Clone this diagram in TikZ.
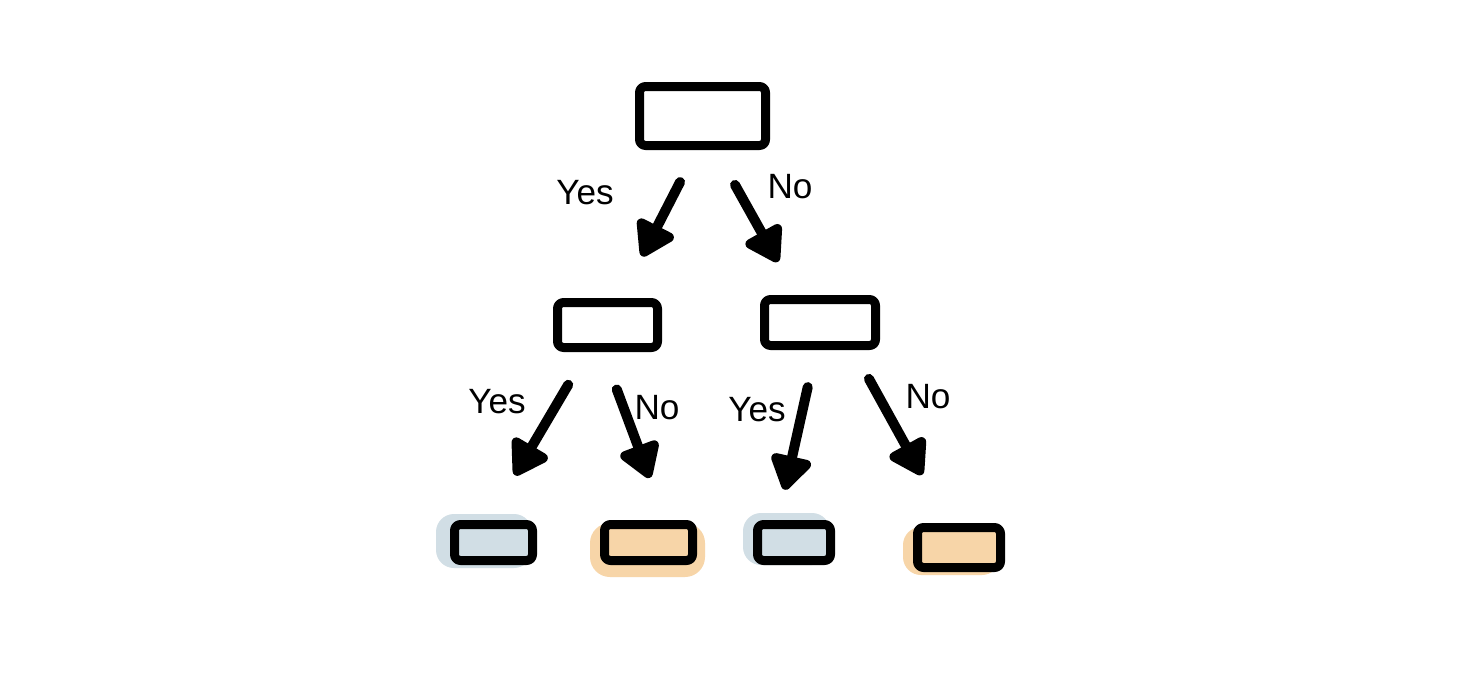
\documentclass[tikz,border=0pt]{standalone}
\usepackage{fontspec}
\setmainfont{Liberation Sans}
\usepackage{tikz}
\usetikzlibrary{arrows.meta}

\definecolor{leafblue}{RGB}{209,222,229}
\definecolor{leaforange}{RGB}{247,213,168}
\newcommand{\pxu}{0.02cm}

\begin{document}
\begin{tikzpicture}[x=\pxu,y=-\pxu,
    box/.style={draw, line width=9*\pxu, rounded corners=6*\pxu, line join=round, inner sep=0pt},
    arr/.style={line width=10*\pxu, line cap=round, -{Triangle[length=22pt 0,width=26pt 0,round]}},
    lbl/.style={font=\fontsize{20}{24}\selectfont, inner sep=0pt}]
    \useasboundingbox[fill=white] (0,0) rectangle (1462,694);

    % colour blobs behind the leaves
    \fill[leafblue, rounded corners=18*\pxu] (436,514) rectangle (532,568);
    \fill[leaforange, rounded corners=20*\pxu] (590,523) rectangle (705,577);
    \fill[leafblue, rounded corners=18*\pxu] (743,513) rectangle (830,565);
    \fill[leaforange, rounded corners=18*\pxu] (903,527) rectangle (1000,575);

    % root question
    \node[box, minimum width=126*\pxu, minimum height=59*\pxu] (root) at (702.5,116) {};

    % second level
    \node[box, minimum width=100*\pxu, minimum height=45*\pxu] (ql) at (607.5,325) {};
    \node[box, minimum width=111*\pxu, minimum height=46*\pxu] (qr) at (820,322.5) {};

    % leaves
    \node[box, fill=leafblue, minimum width=78*\pxu, minimum height=36*\pxu] (leafa) at (493.5,542.5) {};
    \node[box, fill=leaforange, minimum width=88*\pxu, minimum height=36*\pxu] (leafb) at (648.5,542.5) {};
    \node[box, fill=leafblue, minimum width=73*\pxu, minimum height=36*\pxu] (leafc) at (794,542.5) {};
    \node[box, fill=leaforange, minimum width=83*\pxu, minimum height=40*\pxu] (leafd) at (959,547.5) {};

    % Yes / No branches
    \draw[arr, shorten <=36*\pxu, shorten >=47*\pxu] ([xshift=-6*\pxu]root.south) -- ([xshift=13*\pxu]ql.north);
    \draw[arr, shorten <=40*\pxu, shorten >=38*\pxu] ([xshift=13*\pxu]root.south) -- ([xshift=-23.5*\pxu]qr.north);
    \draw[arr, shorten <=38*\pxu, shorten >=52*\pxu] ([xshift=-20*\pxu]ql.south) -- ([xshift=-5*\pxu]leafa.north);
    \draw[arr, shorten <=40*\pxu, shorten >=45*\pxu] ([xshift=-4.7*\pxu]ql.south) -- ([xshift=17*\pxu]leafb.north);
    \draw[arr, shorten <=38*\pxu, shorten >=31*\pxu] ([xshift=-4*\pxu]qr.south) -- ([xshift=-16*\pxu]leafc.north);
    \draw[arr, shorten <=33*\pxu, shorten >=55*\pxu] ([xshift=33*\pxu]qr.south) -- ([xshift=-10.5*\pxu]leafd.north);

    % labels
    \node[lbl] (yesroot) at (585,193) {Yes};
    \node[lbl] (noroot) at (790,187) {No};
    \node[lbl] (yesql) at (497,402) {Yes};
    \node[lbl] (noql) at (657,408) {No};
    \node[lbl] (yesqr) at (757,410) {Yes};
    \node[lbl] (noqr) at (928,397) {No};
\end{tikzpicture}
\end{document}
